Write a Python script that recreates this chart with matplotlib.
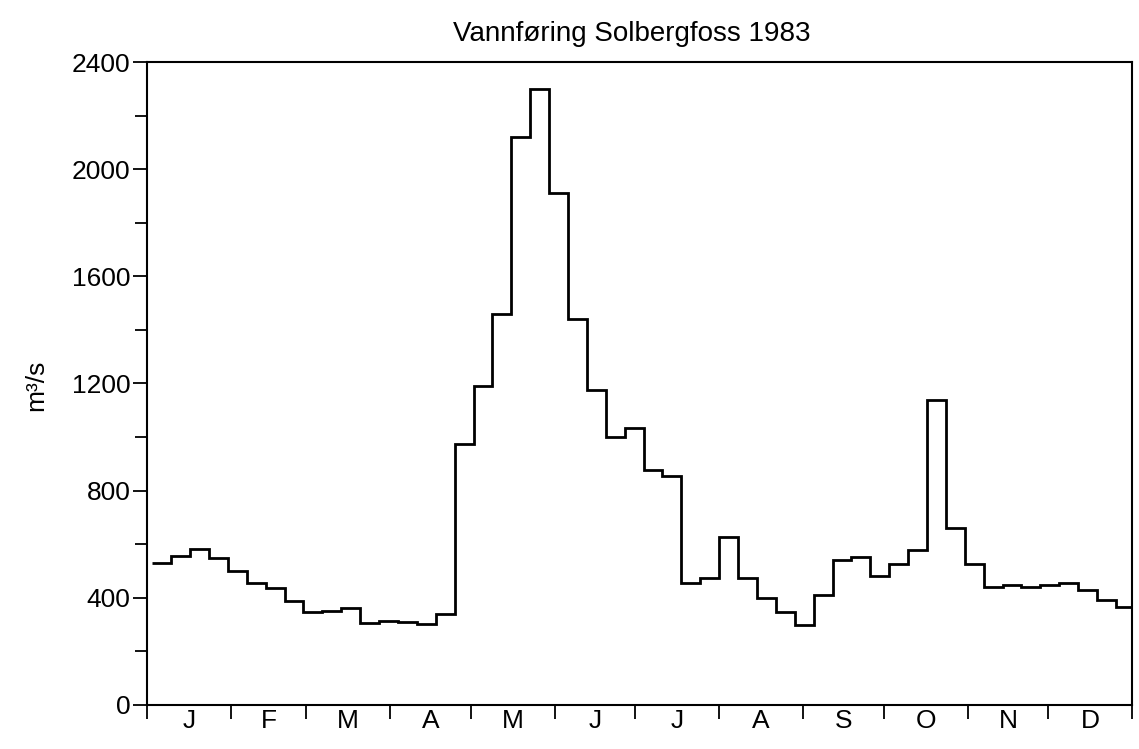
import numpy as np
import matplotlib
matplotlib.use("Agg")
import matplotlib.pyplot as plt

plt.rcParams['font.family'] = ['Liberation Sans', 'DejaVu Sans']

# weekly mean discharge (m3/s), weeks starting Monday 3 Jan 1983
weekly_flow = [530, 556, 582, 550, 498, 455, 435, 388, 345, 352, 362, 305,
               312, 310, 303, 340, 975, 1190, 1460, 2120, 2300, 1910, 1440,
               1175, 1000, 1035, 878, 855, 455, 475, 625, 475, 400, 345, 298,
               410, 540, 552, 480, 525, 580, 1140, 660, 525, 440, 448, 440,
               448, 455, 428, 390, 365]
first_day = 2        # day of year (0-based) of the first week
week_len = 7

months = ['J', 'F', 'M', 'A', 'M', 'J', 'J', 'A', 'S', 'O', 'N', 'D']
month_days = [31, 28, 31, 30, 31, 30, 31, 31, 30, 31, 30, 31]

y_major = [0, 400, 800, 1200, 1600, 2000, 2400]
y_minor = [200, 600, 1000, 1400, 1800, 2200]

edges = first_day + week_len * np.arange(len(weekly_flow) + 1)
month_edges = np.concatenate([[0], np.cumsum(month_days)])
month_mid = (month_edges[:-1] + month_edges[1:]) / 2

fig = plt.figure(figsize=(11.39, 7.49), dpi=100)
ax = fig.add_axes([0.129, 0.059, 0.865, 0.858])

ax.stairs(weekly_flow, edges, color='black', linewidth=2.0, baseline=None)

ax.set_xlim(0, 365)
ax.set_ylim(0, 2400)

# month boundaries as ticks, letters centred in each month
ax.set_xticks(month_edges)
ax.set_xticklabels([])
ax.set_xticks(month_mid, minor=True)
ax.set_xticklabels(months, minor=True)
ax.tick_params(axis='x', which='major', direction='out', length=10, width=1.3)
ax.tick_params(axis='x', which='minor', length=0, pad=3, labelsize=19)

ax.set_yticks(y_major)
ax.set_yticks(y_minor, minor=True)
ax.tick_params(axis='y', which='major', direction='out', length=10, width=1.3,
               labelsize=19, pad=2)
ax.tick_params(axis='y', which='minor', direction='out', length=9, width=1.3)

for s in ax.spines.values():
    s.set_linewidth(1.5)
    s.set_color('black')

fig.text(632 / 1139, 1 - 34 / 749, 'Vannføring Solbergfoss 1983',
         ha='center', va='center', fontsize=20)
fig.text(36 / 1139, 1 - 385 / 749, 'm³/s', rotation=90,
         ha='center', va='center', fontsize=19)

fig.savefig('out.png', dpi=100)
